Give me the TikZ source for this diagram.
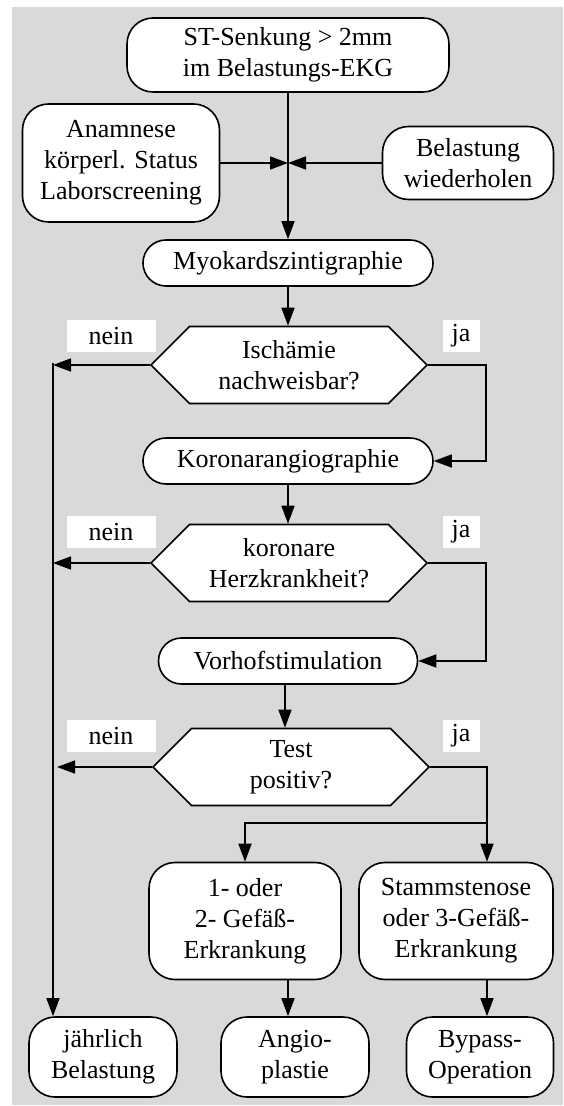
\documentclass[tikz,border=0pt]{standalone}
\usepackage{fontspec}
\setmainfont{Liberation Serif}
\usepackage{tikz}
\usetikzlibrary{arrows.meta, shapes.symbols}

\definecolor{hgrau}{RGB}{217,217,217}

\tikzset{
    box/.style={draw, fill=white, line width=0.8pt, rounded corners=13pt, align=center, inner sep=0pt},
    pill/.style={draw, fill=white, line width=0.8pt, rounded corners=11.5pt, inner sep=0pt, minimum height=23pt},
    frage/.style={signal, signal to=east and west, signal pointer angle=90, draw, fill=white,
        line width=0.8pt, align=center, inner sep=0pt, minimum width=138pt, minimum height=38.5pt},
    marke/.style={fill=white, inner sep=0pt, minimum height=16pt},
    pfeil/.style={->, line width=0.8pt}
}

\begin{document}
\begin{tikzpicture}[x=0.5pt, y=-0.5pt, >={Triangle[length=9pt,width=6.5pt]},
        font=\fontsize{13}{15.5}\selectfont]
    % Hintergrund
    \useasboundingbox (0,0) rectangle (563,1106);
    \fill[hgrau] (12,7) rectangle (563,1105);

    % 1. Kaesten
    \node[box, minimum width=161pt, minimum height=37pt] (start) at (288,55) {ST-Senkung > 2mm\\im Belastungs-EKG};
    \node[box, minimum width=98.5pt, minimum height=59pt] (anam) at (121,163) {Anamnese\\körperl. Status\\Laborscreening};
    \node[box, minimum width=85.5pt, minimum height=36.5pt] (wdh) at (468,163) {Belastung\\wiederholen};
    \coordinate (knoten) at (288,163);
    \node[pill, minimum width=145pt] (myo) at (288,263) {Myokardszintigraphie};
    \node[frage] (frage1) at (289,365) {Ischämie\\nachweisbar?};
    \node[pill, minimum width=145pt] (koro) at (288,461) {Koronarangiographie};
    \node[frage] (frage2) at (289,563) {koronare\\Herzkrankheit?};
    \node[pill, minimum width=129.5pt] (vorhof) at (288,661) {Vorhofstimulation};
    \node[frage] (frage3) at (291,767) {Test\\positiv?};
    \node[box, minimum width=96pt, minimum height=58.5pt] (gef12) at (245,921) {1- oder\\2- Gefäß-\\Erkrankung};
    \node[box, minimum width=97pt, minimum height=58.5pt] (gef3) at (456,921) {Stammstenose\\oder 3-Gefäß-\\Erkrankung};
    \node[box, minimum width=74pt, minimum height=40pt] (jahr) at (103,1057) {jährlich\\Belastung};
    \node[box, minimum width=74pt, minimum height=40pt] (angio) at (295,1057) {Angio-\\plastie};
    \node[box, minimum width=73.5pt, minimum height=40pt] (bypass) at (480,1057) {Bypass-\\Operation};

    % 2. Beschriftungen
    \foreach \y/\n in {336/1, 532/2, 736/3} {
        \node[marke, minimum width=44.5pt] (nein\n) at (111,\y) {nein};
        \node[marke, minimum width=18.5pt] (ja\n) at (461,\y) {ja};
    }

    % 3. Verbindungen
    \coordinate (links) at (53,363);
    \coordinate (rechts) at (486,363);
    \coordinate (teil) at (487,823);
    \draw[pfeil] (start) -- (myo);
    \draw[pfeil] (anam.east) -- (knoten);
    \draw[pfeil] (wdh.west) -- (knoten);
    \draw[pfeil] (myo.south) -- (myo.south |- frage1.north);
    \draw[pfeil] (koro.south) -- (koro.south |- frage2.north);
    \draw[pfeil] ([xshift=-1.5pt]vorhof.south) -- ([xshift=-1.5pt]vorhof.south |- frage3.north);
    \draw[pfeil] (frage1.west) -- (frage1.west -| links);
    \draw[pfeil] (frage2.west) -- (frage2.west -| links);
    \draw[pfeil] (frage3.west) -- ([xshift=2pt]frage3.west -| links);
    \draw[pfeil] (links) -- (links |- jahr.north);
    \draw[pfeil] (frage1.east) -- (frage1.east -| rechts) |- (koro.east);
    \draw[pfeil] (frage2.east) -- (frage2.east -| rechts) |- (vorhof.east);
    \draw[line width=0.8pt] (frage3.east) -| (teil);
    \draw[pfeil] (teil) -- (teil |- gef3.north);
    \draw[pfeil] (teil) -| (gef12.north);
    \draw[pfeil] ([xshift=-3.5pt]angio.north |- gef12.south) -- ([xshift=-3.5pt]angio.north);
    \draw[pfeil] ([xshift=3.5pt]bypass.north |- gef3.south) -- ([xshift=3.5pt]bypass.north);
\end{tikzpicture}
\end{document}
